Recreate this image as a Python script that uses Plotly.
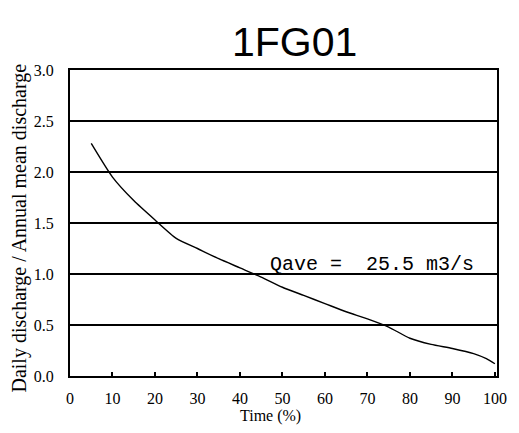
import plotly.graph_objects as go

time_pct = [5, 10, 15, 20, 25, 30, 35, 40, 45, 50, 55, 60, 65, 70, 75, 80, 85, 90, 95, 98, 100]
ratio = [2.28, 1.95, 1.72, 1.53, 1.35, 1.25, 1.15, 1.06, 0.97, 0.87, 0.79, 0.71, 0.63, 0.56, 0.48, 0.37, 0.31, 0.27, 0.22, 0.17, 0.12]
x_ticks = [0, 10, 20, 30, 40, 50, 60, 70, 80, 90, 100]
y_ticks = [0.0, 0.5, 1.0, 1.5, 2.0, 2.5, 3.0]
y_tick_text = ["0.0", "0.5", "1.0", "1.5", "2.0", "2.5", "3.0"]
title_text = "1FG01"
note_text = "Qave =  25.5 m3/s"

serif = "Liberation Serif"

fig = go.Figure()
fig.add_trace(go.Scatter(x=time_pct, y=ratio, mode="lines",
                         line=dict(color="black", width=1.4, shape="spline", smoothing=0.6),
                         showlegend=False, hoverinfo="skip"))

fig.update_layout(
    width=511, height=425,
    margin=dict(l=62, r=17, t=62, b=57),
    paper_bgcolor="white", plot_bgcolor="white",
    xaxis=dict(range=[0, 100.5], tickvals=x_ticks, ticktext=[str(v) for v in x_ticks],
               showgrid=False, zeroline=False, showline=True, linecolor="black", linewidth=2,
               mirror=True, ticks="inside", ticklen=4, tickcolor="black", tickwidth=1.5,
               ticklabelstandoff=7,
               tickfont=dict(family=serif, size=16, color="black")),
    yaxis=dict(range=[0, 3.0], tickvals=y_ticks, ticktext=y_tick_text,
               showgrid=True, gridcolor="black", gridwidth=1.5, zeroline=False,
               showline=True, linecolor="black", linewidth=2, mirror=True,
               ticks="", ticklabelstandoff=11,
               tickfont=dict(family=serif, size=16, color="black")),
    annotations=[
        dict(text=title_text, xref="paper", yref="paper", x=0.525, y=1.0, yshift=3,
             xanchor="center", yanchor="bottom", showarrow=False,
             font=dict(family="Liberation Sans", size=41, color="black")),
        dict(text=note_text, xref="x", yref="y", x=71, y=1.09,
             xanchor="center", yanchor="middle", showarrow=False,
             font=dict(family="Liberation Mono", size=20, color="black")),
        dict(text="Time (%)", xref="paper", yref="paper", x=0.47, y=0, yshift=-29,
             xanchor="center", yanchor="top", showarrow=False,
             font=dict(family=serif, size=16, color="black")),
        dict(text="Daily discharge / Annual mean discharge", xref="paper", yref="paper",
             x=-0.118, y=0.484, textangle=-90, xanchor="center", yanchor="middle",
             showarrow=False, font=dict(family=serif, size=20, color="black")),
    ],
)

fig.write_html("out.html")
